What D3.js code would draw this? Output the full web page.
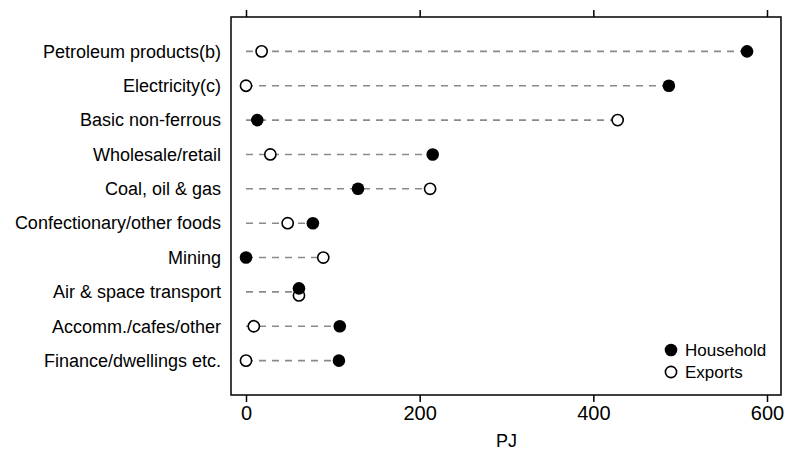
<!DOCTYPE html>
<html>
<head>
<meta charset="utf-8">
<script src="https://cdn.jsdelivr.net/npm/d3@7"></script>
<style>
  html, body { margin: 0; padding: 0; background: #fff; }
  svg { display: block; }
  text { font-family: "Liberation Sans", Arial, sans-serif; fill: #000; }
</style>
</head>
<body>
<svg id="chart" width="787" height="452"></svg>
<script>
// Energy embodied in final demand, by industry (PJ)
const categories = [
  "Petroleum products(b)",
  "Electricity(c)",
  "Basic non-ferrous",
  "Wholesale/retail",
  "Coal, oil & gas",
  "Confectionary/other foods",
  "Mining",
  "Air & space transport",
  "Accomm./cafes/other",
  "Finance/dwellings etc."
];
const household = [577, 487, 13, 215, 129, 77, 0, 61, 108, 107];
const exportsPJ = [18, 0, 428, 28, 212, 48, 89, 61, 9, 0];
const xTicks = [0, 200, 400, 600];
const seriesNames = ["Household", "Exports"];

const svg = d3.select("#chart");
const frame = { left: 231, right: 781, top: 17, bottom: 395 };

const x = d3.scaleLinear().domain([0, 600]).range([246, 767]);
const y = d3.scalePoint().domain(categories).range([frame.top, frame.bottom]).padding(1);

const rows = categories.map((c, i) => ({ cat: c, h: household[i], e: exportsPJ[i] }));

// dashed guide from zero to the larger of the two values
svg.append("g").selectAll("line").data(rows).join("line")
  .attr("x1", x(0))
  .attr("x2", d => x(Math.max(d.h, d.e)))
  .attr("y1", d => y(d.cat)).attr("y2", d => y(d.cat))
  .attr("stroke", "#8a8a8a").attr("stroke-width", 1.6)
  .attr("stroke-dasharray", "7,6");

// nudge markers apart vertically when the two values coincide
const nudge = d => (Math.abs(d.h - d.e) < 3 ? 3.5 : 0);

svg.append("g").selectAll("circle").data(rows).join("circle")
  .attr("cx", d => x(d.e)).attr("cy", d => y(d.cat) + nudge(d))
  .attr("r", 5.6).attr("fill", "#fff").attr("stroke", "#000").attr("stroke-width", 1.6);

svg.append("g").selectAll("circle").data(rows).join("circle")
  .attr("cx", d => x(d.h)).attr("cy", d => y(d.cat) - nudge(d))
  .attr("r", 6.3).attr("fill", "#000");

// plot frame
svg.append("rect")
  .attr("x", frame.left).attr("y", frame.top)
  .attr("width", frame.right - frame.left).attr("height", frame.bottom - frame.top)
  .attr("fill", "none").attr("stroke", "#000").attr("stroke-width", 1.5);

// category labels
svg.append("g").selectAll("text").data(categories).join("text")
  .attr("x", 221).attr("y", d => y(d)).attr("dy", "0.35em")
  .attr("text-anchor", "end").style("font-size", "18px")
  .text(d => d);

// x axis, bottom with labels, top ticks only
const bottomAxis = d3.axisBottom(x).tickValues(xTicks).tickSize(7).tickPadding(4).tickFormat(d3.format("d"));
const gb = svg.append("g").attr("transform", `translate(0,${frame.bottom})`).call(bottomAxis);
gb.select(".domain").remove();
gb.selectAll(".tick line").attr("stroke", "#000").attr("stroke-width", 1.5);
gb.selectAll(".tick text").style("font-size", "20px").attr("fill", "#000")
  .style("font-family", "'Liberation Sans', Arial, sans-serif");

const topAxis = d3.axisTop(x).tickValues(xTicks).tickSize(7).tickFormat("");
const gt = svg.append("g").attr("transform", `translate(0,${frame.top})`).call(topAxis);
gt.select(".domain").remove();
gt.selectAll(".tick line").attr("stroke", "#000").attr("stroke-width", 1.5);

svg.append("text")
  .attr("x", (x(0) + x(600)) / 2).attr("y", 447)
  .attr("text-anchor", "middle").style("font-size", "18px")
  .text("PJ");

// legend
const legend = svg.append("g");
seriesNames.forEach((name, i) => {
  const ly = 350 + i * 22;
  const c = legend.append("circle").attr("cx", 671).attr("cy", ly);
  if (i === 0) c.attr("r", 6.3).attr("fill", "#000");
  else c.attr("r", 5.6).attr("fill", "#fff").attr("stroke", "#000").attr("stroke-width", 1.6);
  legend.append("text").attr("x", 685).attr("y", ly).attr("dy", "0.35em")
    .style("font-size", "17px").text(name);
});
</script>
</body>
</html>
